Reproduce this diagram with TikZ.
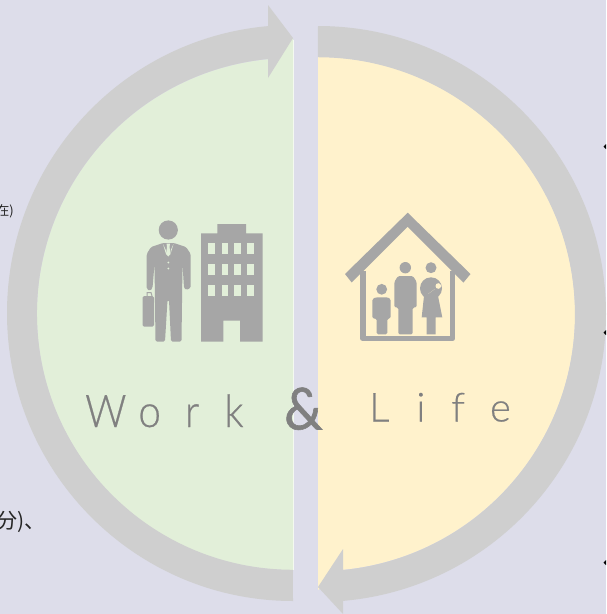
\documentclass[tikz,border=0pt]{standalone}
\usepackage{fontspec}
\newfontfamily\cjk{Noto Sans CJK JP}
\newfontfamily\workf{Lato Light}[FakeStretch=0.9,FakeBold=0.5]
\newfontfamily\lightf{Lato Light}[FakeBold=0.5]
\newfontfamily\regf{Lato}[FakeBold=1,FakeStretch=0.93]
\definecolor{bgc}{HTML}{DDDDEA}
\definecolor{greenc}{HTML}{E2EFD9}
\definecolor{yellowc}{HTML}{FFF2CC}
\definecolor{ringc}{HTML}{CFCFCF}
\definecolor{iconc}{HTML}{A6A6A6}
\definecolor{wordc}{HTML}{808080}
\tikzset{
  ring/.style={fill=ringc,draw=none},
  icon/.style={fill=iconc,draw=none},
  iconround/.style={fill=iconc,draw=none,rounded corners=1.5pt},
  paleg/.style={fill=greenc,draw=none},
  paley/.style={fill=yellowc,draw=none},
  word/.style={text=wordc,inner sep=0pt,anchor=base west},
  jp/.style={text=black!85,inner sep=0pt,anchor=base east},
}
\begin{document}
\begin{tikzpicture}[x=1pt,y=1pt,yscale=-1]
\useasboundingbox (0,0) rectangle (606,614);
\clip (0,0) rectangle (606,614);
\fill[bgc] (0,0) rectangle (606,614);
% half discs
\fill[greenc] (293,38) -- (293,570) arc[start angle=90,end angle=265,radius=256] -- (268,70) -- cycle;
\draw[white!60!greenc,line width=1pt] (293.5,40) -- (293.5,570);
\fill[yellowc] (318,57) arc[start angle=-90,end angle=85,radius=257] -- (318,590) -- cycle;
% rings with arrowheads
\fill[ring] (293,601) arc[start angle=90,end angle=265,x radius=286,y radius=288] -- (268,5) -- (293,38) -- (268,78) -- (268,59) arc[start angle=264.4,end angle=90,radius=256] -- cycle;
\fill[ring] (318,26) arc[start angle=-90,end angle=85,radius=288] -- (343,614) -- (318,587) -- (343,549) -- (343,570) arc[start angle=84.4,end angle=-90,radius=257] -- cycle;
% businessman
\fill[icon] (168.3,230) circle[radius=9.6];
\fill[iconround] (146.7,254) -- (151,247) -- (163,243) -- (174,243) -- (186,247) -- (190.7,254) -- (190.7,288) -- (186,290) -- (184,288) -- (182.5,264) -- (181.5,341.5) -- (171,341.5) -- (169,300) -- (167.5,300) -- (165,341.5) -- (155.5,341.5) -- (154.5,264) -- (152.5,288) -- (150,291) -- (146.7,289) -- cycle;
\fill[paleg] (166.5,243.5) -- (170,243.5) -- (169.5,247) -- (170.5,254) -- (168.3,256.5) -- (166,254) -- (167,247) -- cycle;
\fill[paleg] (163,244) -- (165.8,250) -- (166,254) -- cycle;
\fill[paleg] (173.5,244) -- (170.8,250) -- (170.5,254) -- cycle;
\fill[paleg] (168.3,262.5) circle[radius=1];
\fill[paleg] (168.3,268.5) circle[radius=1];
\fill[iconround] (142.7,296) rectangle (154,326.7);
\draw[iconc,line width=1pt] (147,296) -- (147,292.5) -- (151,292.5) -- (152,296);
% building
\fill[icon] (201,233.3) -- (217.3,233.3) -- (217.3,224) -- (246,224) -- (246,233.3) -- (262.7,233.3) -- (262.7,341.7) -- (240,341.7) -- (240,320.7) -- (223.3,320.7) -- (223.3,341.7) -- (201,341.7) -- cycle;
\foreach \cx in {211.3,225,237.7,250.7}
  \foreach \cy in {248.5,269.5,290.5}
    \fill[paleg] (\cx-3.3,\cy-5.3) rectangle (\cx+3.3,\cy+5.3);
% house
\fill[icon] (407.7,212.7) -- (470.5,274) -- (463.5,282.5) -- (407.7,226.7) -- (351.7,282.5) -- (345,274) -- cycle;
\draw[iconc,line width=5.6pt,line join=round] (362.7,271) -- (362.7,338.5) -- (452.5,338.5) -- (452.5,271);
% child
\fill[icon] (381.7,289.3) circle[radius=5.4];
\fill[iconround] (372.3,299) -- (376,297.3) -- (387.5,297.3) -- (390.7,299) -- (390.7,318.5) -- (387.3,318.5) -- (387.3,334.3) -- (376.7,334.3) -- (376.7,318.5) -- (372.3,318.5) -- cycle;
% father
\fill[icon] (405.3,267.7) circle[radius=5.7];
\fill[iconround] (394.3,282) -- (398,276) -- (413,276) -- (416.7,282) -- (416.7,307.3) -- (412.7,307.3) -- (412.7,334.3) -- (398.3,334.3) -- (398.3,307.3) -- (394.3,307.3) -- cycle;
% mother
\fill[icon] (431,267.7) circle[radius=5.5];
\fill[icon] (431,288.3) circle[radius=11];
\fill[icon] (424,296) -- (438,296) -- (442.3,317.3) -- (435.7,317.3) -- (435.7,334.3) -- (426.7,334.3) -- (426.7,317.3) -- (421.7,317.3) -- cycle;
\fill[paley] (438.3,286) circle[radius=2.8];
\draw[paley,line width=3.4pt,line cap=round] (428,294) -- (435,289);
\draw[iconc,line width=1pt] (427,296.5) -- (436.5,290);
% words
\node[word] (work) at (85,427) {\fontsize{45}{45}\workf W\kern12pt o\kern24pt r\kern25pt k};
\node[word] (amp) at (284,429.5) {\fontsize{58}{58}\regf\&};
\node[word] (life) at (369,421.5) {\fontsize{40}{40}\lightf L\kern27pt i\kern26pt f\kern25pt e};
% clipped side text
\node[jp] (tsmall) at (14,215) {\fontsize{13}{13}\cjk 在)};
\node[jp] (tbig) at (46,528) {\fontsize{21}{21}\cjk 分)、};
% marks at the right edge
\fill[black] (603.5,146.5) -- (606,144) -- (606,149) -- cycle;
\fill[black] (603.5,332.5) -- (606,330) -- (606,335) -- cycle;
\fill[black] (603.5,562.5) -- (606,560) -- (606,565) -- cycle;
\end{tikzpicture}
\end{document}
